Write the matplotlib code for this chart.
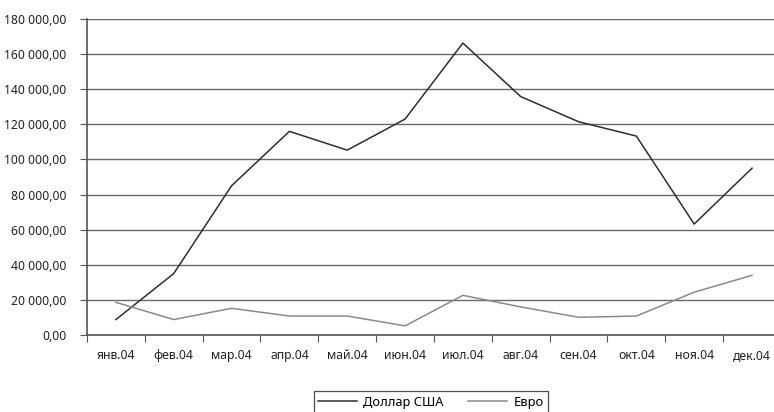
import matplotlib
matplotlib.use("Agg")
import matplotlib.pyplot as plt
from matplotlib.ticker import FuncFormatter, FixedLocator

months = ["янв.04", "фев.04", "мар.04", "апр.04", "май.04", "июн.04",
          "июл.04", "авг.04", "сен.04", "окт.04", "ноя.04", "дек.04"]
usd = [8800, 35000, 85000, 116000, 105300, 123000,
       166300, 135800, 121500, 113300, 63200, 95000]
eur = [18600, 8800, 15200, 10800, 10800, 5200,
       22600, 16000, 10100, 10800, 24400, 34000]
series_names = ["Доллар США", "Евро"]

plt.rcParams["font.family"] = ["Noto Sans", "DejaVu Sans"]

W, H = 774, 412
fig = plt.figure(figsize=(W / 100, H / 100), dpi=100)
ax = fig.add_axes([87 / W, (H - 335) / H, (774 - 87) / W, (335 - 19) / H])

x = list(range(len(months)))
ax.plot(x, usd, color="#2e2e2e", lw=1.1, label=series_names[0])
ax.plot(x, eur, color="#8a8a8a", lw=1.1, label=series_names[1])

ax.set_ylim(0, 180000)
ax.set_yticks(range(0, 180001, 20000))
ax.yaxis.set_major_formatter(FuncFormatter(
    lambda v, p: f"{v:,.2f}".replace(",", " ").replace(".", ",")))
ax.set_xlim(-0.5, 11.38)
ax.xaxis.set_major_locator(FixedLocator([i - 0.5 for i in range(13)]))
ax.xaxis.set_minor_locator(FixedLocator(x))
ax.set_xticklabels([])
ax.set_xticklabels(months, minor=True)
ax.tick_params(axis="x", which="major", length=5, color="#555555", direction="out")
ax.tick_params(axis="x", which="minor", length=0, pad=10, labelsize=8.8, labelcolor="#222222")
ax.tick_params(axis="y", length=5, color="#555555", pad=10, labelsize=8.8, labelcolor="#222222")

ax.grid(axis="y", color="#6a6a6a", lw=1.0)
ax.set_axisbelow(True)
for s in ["top", "right"]:
    ax.spines[s].set_visible(False)
ax.spines["left"].set_color("#555555")
ax.spines["bottom"].set_color("#555555")
ax.spines["left"].set_linewidth(1.2)
ax.spines["bottom"].set_linewidth(1.2)

leg = fig.legend(loc="upper center", bbox_to_anchor=(431 / W, 1 - 385 / H),
                 ncol=2, fontsize=9.3, frameon=True, fancybox=False,
                 handlelength=3.0, handletextpad=0.5, columnspacing=1.9,
                 borderpad=0.35)
leg.get_frame().set_edgecolor("#222222")
leg.get_frame().set_linewidth(0.9)

fig.savefig("out.png", dpi=100)
